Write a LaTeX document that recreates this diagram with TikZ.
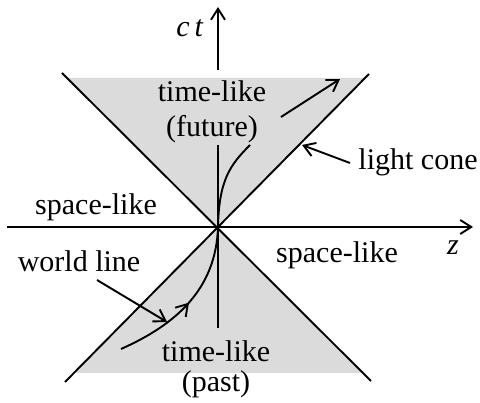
\documentclass[tikz,border=0pt]{standalone}
\usepackage{fontspec}
\setmainfont{Liberation Serif}
\usetikzlibrary{
    arrows.meta,
    positioning,
    decorations.markings,
}

\begin{document}
\begin{tikzpicture}[
        x=1pt, y=-1pt,
        line width=1.9pt,
        >={Straight Barb[length=11pt, width=14pt]},
        lbl/.style={font=\fontsize{30}{34}\selectfont, anchor=base, inner sep=0pt},
        cone/.style={fill=black!14, draw=none},
        midarrow/.style={decoration={markings,
            mark=at position 0.5 with {\arrow{>}}}, postaction={decorate}},
    ]
        \useasboundingbox (0,0) rectangle (480,403);

        % Points
        \coordinate (O) at (218,227);
        \coordinate (ul) at (62,73);
        \coordinate (ur) at (369,74);
        \coordinate (ll) at (65,382);
        \coordinate (lr) at (371,381);

        % Shaded cones
        \fill[cone] (67,78) -- (364,78) -- (O) -- cycle;
        \fill[cone] (74,373) -- (362,373) -- (O) -- cycle;

        % Light cone
        \draw (ul) -- (lr);
        \draw (ur) -- (ll);

        % Axes
        \coordinate (zs) at (7,227);
        \coordinate (ze) at (473,227);
        \coordinate (tb) at (218,328);
        \coordinate (tm) at (218,145);
        \coordinate (tt) at (218,70);
        \coordinate (te) at (218,7);
        \draw[->] (zs) -- (ze);
        \draw (tb) -- (tm);
        \draw[->] (tt) -- (te);

        % World line
        \coordinate (w0) at (121,349);
        \coordinate (w1) at (250,145);
        \coordinate (w2) at (281,117);
        \coordinate (w3) at (340,79);
        \draw[midarrow] (w0) .. controls (175,325) and (216,290) .. (O);
        \draw (O) .. controls (219,180) and (230,165) .. (w1);
        \draw[->] (w2) -- (w3);

        % Labels
        \node[lbl] (ct) at (190,37) {\textit{c\,t}};
        \node[lbl] (z) at (453,255) {\textit{z}};
        \node[lbl] (fut1) at (212,102) {time-like};
        \node[lbl] (fut2) at (212,137) {(future)};
        \node[lbl] (past1) at (216,362) {time-like};
        \node[lbl] (past2) at (216,392) {(past)};
        \node[lbl] (spl) at (96,215) {space-like};
        \node[lbl] (spr) at (337,263) {space-like};
        \node[lbl] (lc) at (418,170) {light cone};
        \node[lbl] (wl) at (79,272) {world line};

        % Pointers
        \coordinate (lcs) at (350,163);
        \coordinate (lct) at (302,145);
        \coordinate (wls) at (97,280);
        \coordinate (wlt) at (167,322);
        \draw[->] (lcs) -- (lct);
        \draw[->] (wls) -- (wlt);
    \end{tikzpicture}
\end{document}
